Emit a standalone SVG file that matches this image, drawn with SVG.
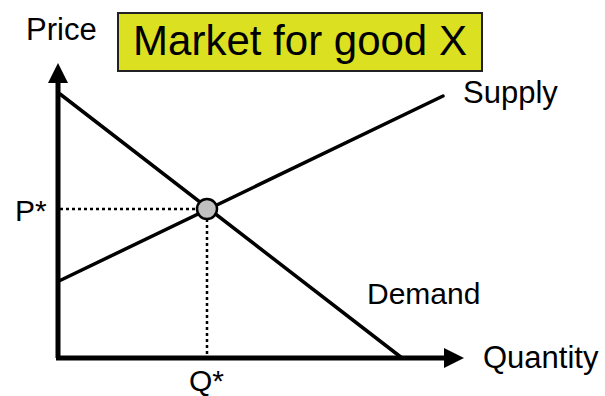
<svg xmlns="http://www.w3.org/2000/svg" width="605" height="396" viewBox="0 0 605 396">
<style>
.lbl{font-family:"Liberation Sans",Arial,sans-serif;fill:#000}
.axis{stroke:#000;stroke-width:5;fill:none}
.curve{stroke:#000;stroke-width:3.5;fill:none;stroke-linecap:round}
.dot{stroke:#000;stroke-width:2.5;stroke-dasharray:3 3;fill:none}
</style>
<defs>
<marker id="ah" viewBox="0 0 20 20" refX="0" refY="10" markerWidth="20" markerHeight="20" markerUnits="userSpaceOnUse" orient="auto">
<path d="M0,0 L20,10 L0,20 Z" fill="#000"/>
</marker>
</defs>
<rect width="605" height="396" fill="#fff"/>
<g id="title">
<rect x="118" y="13" width="364" height="58" fill="#dbe021" stroke="#222" stroke-width="2"/>
<text class="lbl" x="300" y="55" font-size="42" text-anchor="middle">Market for good X</text>
</g>
<g id="axes">
<path class="axis" d="M58,358 L58,83" marker-end="url(#ah)"/>
<path class="axis" d="M56,358 L444,358" marker-end="url(#ah)"/>
<text class="lbl" x="26" y="40" font-size="31">Price</text>
<text class="lbl" x="483" y="368" font-size="31">Quantity</text>
</g>
<g id="connectors">
<line class="curve" x1="59" y1="281" x2="443" y2="96"/>
<line class="curve" x1="60" y1="94" x2="402" y2="358"/>
<line class="dot" x1="60" y1="209" x2="197" y2="209"/>
<line class="dot" x1="207" y1="219" x2="207" y2="356"/>
</g>
<g id="supply"><text class="lbl" x="463" y="103" font-size="31">Supply</text></g>
<g id="demand"><text class="lbl" x="367" y="304" font-size="30">Demand</text></g>
<g id="equilibrium"><circle cx="207" cy="209" r="10" fill="#c0c0c0" stroke="#000" stroke-width="2.5"/></g>
<g id="pstar"><text class="lbl" x="15" y="221" font-size="30">P*</text></g>
<g id="qstar"><text class="lbl" x="189" y="391" font-size="30">Q*</text></g>
</svg>
